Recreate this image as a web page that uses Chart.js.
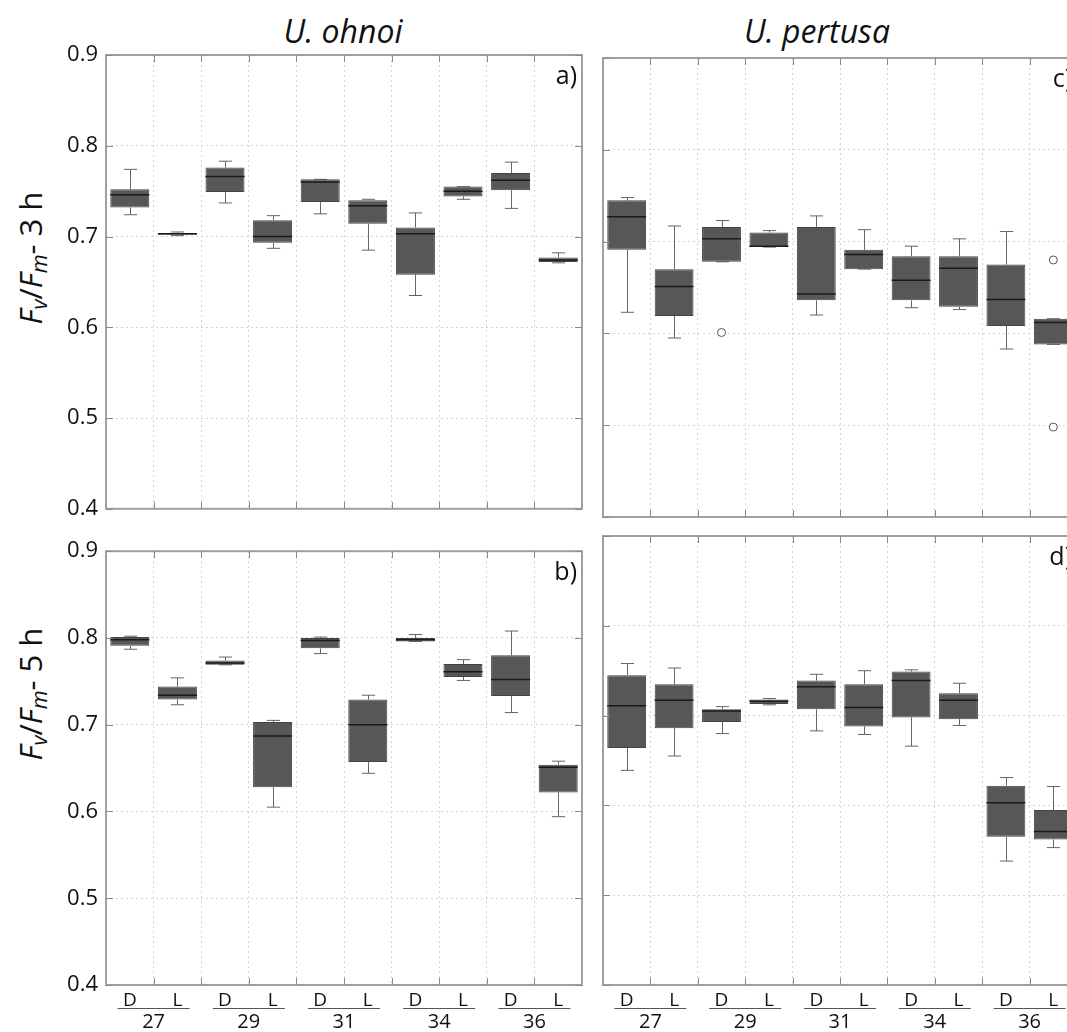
<!DOCTYPE html>
<html>
<head>
<meta charset="utf-8">
<script src="https://cdn.jsdelivr.net/npm/chart.js"></script>
<style>
  body { margin: 0; background: #fff; }
  #wrap { position: relative; width: 1067px; height: 1032px; overflow: hidden; background: #fff; }
  #wrap canvas { position: absolute; }
  .title { position: absolute; top: 30px; transform: translate(-50%, -50%); font: italic 32px "Open Sans", sans-serif; color: #111; white-space: nowrap; }
  .ytitle { position: absolute; left: 31px; transform: translate(-50%, -50%) rotate(-90deg); font: 31px "Open Sans", sans-serif; color: #111; white-space: nowrap; }
  .ytitle sub { font-size: 0.7em; font-style: italic; vertical-align: -0.25em; }
</style>
</head>
<body>
<div id="wrap">
  <div class="title" style="left:343px">U. ohnoi</div>
  <div class="title" style="left:817px">U. pertusa</div>
  <div class="ytitle" style="top:258px"><i>F</i><sub>v</sub>/<i>F</i><sub>m</sub>- 3 h</div>
  <div class="ytitle" style="top:694px"><i>F</i><sub>v</sub>/<i>F</i><sub>m</sub>- 5 h</div>
  <canvas id="panelA" width="592" height="530" style="left:0;top:0"></canvas>
  <canvas id="panelB" width="592" height="502" style="left:0;top:530px"></canvas>
  <canvas id="panelC" width="490" height="530" style="left:592px;top:0"></canvas>
  <canvas id="panelD" width="490" height="502" style="left:592px;top:530px"></canvas>
</div>
<script>
// Categories
const xLabels = ["D", "L", "D", "L", "D", "L", "D", "L", "D", "L"];
const groupLabels = ["27", "29", "31", "34", "36"];

// Y axis
const yMin = 0.4;
const yMax = 0.9;
const yStep = 0.1;

// Box rows: [lower whisker, Q1, median, Q3, upper whisker]
const ohnoi3h = [
  [0.724, 0.732, 0.746, 0.752, 0.774],
  [0.701, 0.702, 0.703, 0.704, 0.705],
  [0.737, 0.749, 0.766, 0.776, 0.783],
  [0.687, 0.693, 0.700, 0.718, 0.723],
  [0.725, 0.738, 0.760, 0.763, 0.763],
  [0.685, 0.714, 0.734, 0.740, 0.741],
  [0.635, 0.658, 0.703, 0.710, 0.726],
  [0.741, 0.744, 0.750, 0.755, 0.755],
  [0.731, 0.751, 0.762, 0.770, 0.782],
  [0.671, 0.672, 0.674, 0.677, 0.682]
];
const pertusa3h = [
  [0.623, 0.691, 0.727, 0.745, 0.748],
  [0.595, 0.619, 0.651, 0.670, 0.717],
  [0.678, 0.678, 0.703, 0.716, 0.723],
  [0.694, 0.694, 0.695, 0.710, 0.712],
  [0.620, 0.636, 0.643, 0.716, 0.728],
  [0.670, 0.670, 0.686, 0.691, 0.713],
  [0.628, 0.636, 0.658, 0.684, 0.695],
  [0.626, 0.629, 0.671, 0.684, 0.703],
  [0.583, 0.608, 0.637, 0.675, 0.711],
  [0.588, 0.588, 0.612, 0.616, 0.616]
];
const ohnoi5h = [
  [0.787, 0.791, 0.798, 0.801, 0.802],
  [0.723, 0.729, 0.734, 0.744, 0.754],
  [0.769, 0.769, 0.771, 0.774, 0.778],
  [0.605, 0.628, 0.687, 0.703, 0.705],
  [0.782, 0.788, 0.797, 0.800, 0.801],
  [0.644, 0.657, 0.700, 0.729, 0.734],
  [0.796, 0.796, 0.798, 0.800, 0.804],
  [0.751, 0.755, 0.761, 0.770, 0.775],
  [0.714, 0.733, 0.752, 0.780, 0.808],
  [0.594, 0.622, 0.651, 0.654, 0.658]
];
const pertusa5h = [
  [0.639, 0.664, 0.711, 0.745, 0.758],
  [0.655, 0.686, 0.717, 0.735, 0.753],
  [0.680, 0.693, 0.705, 0.707, 0.710],
  [0.712, 0.713, 0.716, 0.718, 0.719],
  [0.683, 0.707, 0.732, 0.739, 0.746],
  [0.679, 0.688, 0.709, 0.735, 0.750],
  [0.666, 0.698, 0.739, 0.749, 0.751],
  [0.689, 0.696, 0.717, 0.725, 0.736],
  [0.538, 0.565, 0.603, 0.622, 0.631],
  [0.553, 0.562, 0.571, 0.595, 0.621]
];

// Outliers per category
const pertusa3hOutliers = [[], [], [0.601], [], [], [], [], [], [], [0.680, 0.498]];
const noOutliers = [[], [], [], [], [], [], [], [], [], []];

const FONT = '"Open Sans", sans-serif';

// whiskers, medians, outliers, frame and labels
function boxPlugin(rows, outliers, letter, showGroups) {
  return {
    id: "boxes",
    beforeDatasetsDraw(chart) {
      const ctx = chart.ctx, x = chart.scales.x, y = chart.scales.y;
      const bars = chart.getDatasetMeta(0).data;
      ctx.save();
      ctx.strokeStyle = "#666";
      ctx.lineWidth = 1;
      rows.forEach((r, i) => {
        const cx = Math.round(x.getPixelForValue(i)) + 0.5;
        const cap = bars[i].width * 0.17;
        ctx.beginPath();
        ctx.moveTo(cx, y.getPixelForValue(r[3]));
        ctx.lineTo(cx, y.getPixelForValue(r[4]));
        ctx.moveTo(cx - cap, y.getPixelForValue(r[4]));
        ctx.lineTo(cx + cap, y.getPixelForValue(r[4]));
        ctx.moveTo(cx, y.getPixelForValue(r[1]));
        ctx.lineTo(cx, y.getPixelForValue(r[0]));
        ctx.moveTo(cx - cap, y.getPixelForValue(r[0]));
        ctx.lineTo(cx + cap, y.getPixelForValue(r[0]));
        ctx.stroke();
      });
      ctx.restore();
    },
    afterDatasetsDraw(chart) {
      const ctx = chart.ctx, x = chart.scales.x, y = chart.scales.y;
      const bars = chart.getDatasetMeta(0).data;
      ctx.save();
      ctx.strokeStyle = "#1a1a1a";
      ctx.lineWidth = 1.5;
      rows.forEach((r, i) => {
        const w = bars[i].width / 2;
        const my = y.getPixelForValue(r[2]);
        ctx.beginPath();
        ctx.moveTo(bars[i].x - w, my);
        ctx.lineTo(bars[i].x + w, my);
        ctx.stroke();
      });
      ctx.strokeStyle = "#555";
      ctx.lineWidth = 1;
      ctx.fillStyle = "#fff";
      outliers.forEach((list, i) => {
        list.forEach(v => {
          ctx.beginPath();
          ctx.arc(x.getPixelForValue(i), y.getPixelForValue(v), 4, 0, Math.PI * 2);
          ctx.fill();
          ctx.stroke();
        });
      });
      ctx.restore();
    },
    afterDraw(chart) {
      const ctx = chart.ctx, x = chart.scales.x, y = chart.scales.y;
      const a = chart.chartArea;
      ctx.save();
      ctx.strokeStyle = "#a0a0a0";
      ctx.lineWidth = 2;
      ctx.strokeRect(a.left, a.top, a.right - a.left, a.bottom - a.top);
      // inward tick marks
      ctx.lineWidth = 1;
      ctx.strokeStyle = "#8a8a8a";
      ctx.beginPath();
      for (let i = 1; i < xLabels.length; i++) {
        const bx = Math.round((x.getPixelForValue(i - 1) + x.getPixelForValue(i)) / 2) + 0.5;
        ctx.moveTo(bx, a.top); ctx.lineTo(bx, a.top + 7);
        ctx.moveTo(bx, a.bottom); ctx.lineTo(bx, a.bottom - 7);
      }
      y.ticks.forEach(t => {
        const ty = Math.round(y.getPixelForValue(t.value)) + 0.5;
        ctx.moveTo(a.left, ty); ctx.lineTo(a.left + 7, ty);
        ctx.moveTo(a.right, ty); ctx.lineTo(a.right - 7, ty);
      });
      ctx.stroke();
      // panel letter
      ctx.fillStyle = "#111";
      ctx.font = "25px " + FONT;
      ctx.textAlign = "right";
      ctx.textBaseline = "middle";
      ctx.fillText(letter, a.right - 5, a.top + 22);
      // temperature groups
      if (showGroups) {
        ctx.font = "20px " + FONT;
        ctx.textAlign = "center";
        ctx.strokeStyle = "#555";
        groupLabels.forEach((g, k) => {
          const cx = (x.getPixelForValue(2 * k) + x.getPixelForValue(2 * k + 1)) / 2;
          ctx.beginPath();
          ctx.moveTo(cx - 36, a.bottom + 23.5);
          ctx.lineTo(cx + 36, a.bottom + 23.5);
          ctx.stroke();
          ctx.fillText(g, cx, a.bottom + 37);
        });
      }
      ctx.restore();
    }
  };
}

function makePanel(id, rows, outliers, letter, showY, showX, pad, yWidth, xHeight) {
  const gridOpts = { color: "#d4d4d4", drawTicks: false };
  new Chart(document.getElementById(id), {
    type: "bar",
    data: {
      labels: xLabels,
      datasets: [{
        data: rows.map(r => [r[1], r[3]]),
        backgroundColor: "#575757",
        borderColor: "#444",
        borderWidth: 1,
        borderSkipped: false,
        barPercentage: 0.82,
        categoryPercentage: 1
      }]
    },
    options: {
      responsive: false,
      animation: false,
      events: [],
      layout: { padding: pad },
      plugins: { legend: { display: false }, tooltip: { enabled: false } },
      scales: {
        x: {
          grid: Object.assign({ offset: true }, gridOpts),
          border: { display: false, dash: [2, 3] },
          ticks: { display: showX, color: "#111", font: { size: 19, family: FONT }, padding: 4, autoSkip: false, maxRotation: 0 },
          afterFit: s => { s.height = xHeight; }
        },
        y: {
          min: yMin,
          max: yMax,
          grid: gridOpts,
          border: { display: false, dash: [2, 3] },
          ticks: { display: showY, stepSize: yStep, color: "#111", font: { size: 22, family: FONT }, padding: 8, callback: v => v.toFixed(1) },
          afterFit: s => { s.width = yWidth; }
        }
      }
    },
    plugins: [boxPlugin(rows, outliers, letter, showX)]
  });
}

makePanel("panelA", ohnoi3h, noOutliers, "a)", true, false, { top: 55, right: 10, left: 0, bottom: 0 }, 106, 13);
makePanel("panelB", ohnoi5h, noOutliers, "b)", true, true, { top: 6, right: 10, left: 0, bottom: 0 }, 106, 47);
makePanel("panelC", pertusa3h, pertusa3hOutliers, "c)", false, false, { top: 58, right: 5, left: 0, bottom: 0 }, 11, 13);
makePanel("panelD", pertusa5h, noOutliers, "d)", false, true, { top: 6, right: 5, left: 0, bottom: 0 }, 11, 47);
</script>
</body>
</html>
